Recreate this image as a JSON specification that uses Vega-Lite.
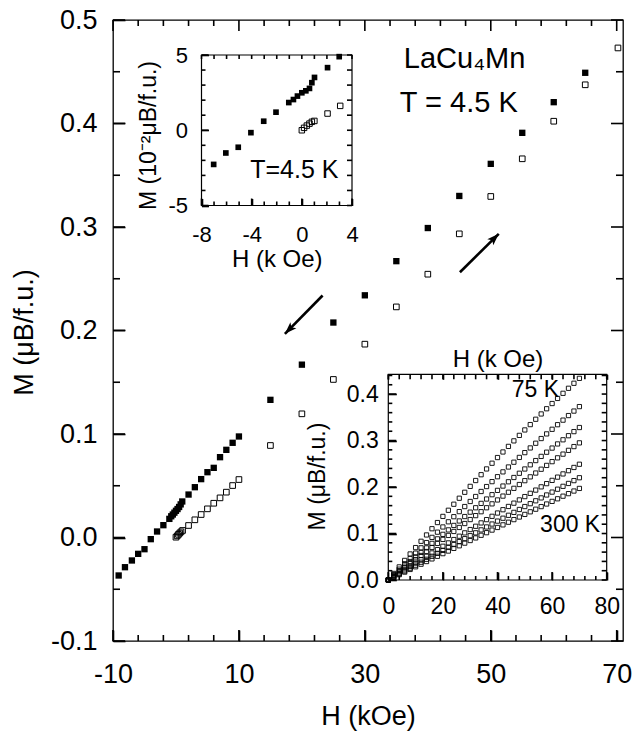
{
  "$schema": "https://vega.github.io/schema/vega-lite/v6.json",
  "width": 510,
  "height": 621,
  "autosize": "none",
  "padding": {"left": 113, "top": 20, "right": 13, "bottom": 91},
  "config": {
    "font": "Liberation Sans",
    "view": {"stroke": "black", "strokeWidth": 1.3},
    "tick": {"thickness": 1.6, "opacity": 1, "color": "black"},
    "axis": {"labelColor": "black", "titleColor": "black", "tickColor": "#000000", "tickOpacity": 1, "tickWidth": 1.6, "ticks": true, "domainColor": "black", "grid": false, "titleFontWeight": "normal", "labelOverlap": false, "labelFlush": false, "domain": false}
  },
  "datasets": {
    "mxMaj": [{"v": -10}, {"v": 10}, {"v": 30}, {"v": 50}, {"v": 70}],
    "mxMin": [{"v": -6}, {"v": -2}, {"v": 2}, {"v": 6}, {"v": 14}, {"v": 18}, {"v": 22}, {"v": 26}, {"v": 34}, {"v": 38}, {"v": 42}, {"v": 46}, {"v": 54}, {"v": 58}, {"v": 62}, {"v": 66}],
    "myMaj": [{"v": -0.1}, {"v": 0}, {"v": 0.1}, {"v": 0.2}, {"v": 0.3}, {"v": 0.4}, {"v": 0.5}],
    "myMin": [{"v": -0.05}, {"v": 0.05}, {"v": 0.15}, {"v": 0.25}, {"v": 0.35}, {"v": 0.45}],
    "axMaj": [{"v": -8}, {"v": -4}, {"v": 0}, {"v": 4}],
    "axMin": [{"v": -7}, {"v": -6}, {"v": -5}, {"v": -3}, {"v": -2}, {"v": -1}, {"v": 1}, {"v": 2}, {"v": 3}],
    "axAll": [{"v": -8}, {"v": -7}, {"v": -6}, {"v": -5}, {"v": -4}, {"v": -3}, {"v": -2}, {"v": -1}, {"v": 0}, {"v": 1}, {"v": 2}, {"v": 3}, {"v": 4}],
    "ayMaj": [{"v": -5}, {"v": 0}, {"v": 5}],
    "ayMin": [{"v": -4}, {"v": -3}, {"v": -2}, {"v": -1}, {"v": 1}, {"v": 2}, {"v": 3}, {"v": 4}],
    "ayAll": [{"v": -5}, {"v": -4}, {"v": -3}, {"v": -2}, {"v": -1}, {"v": 0}, {"v": 1}, {"v": 2}, {"v": 3}, {"v": 4}, {"v": 5}],
    "bxMaj": [{"v": 0}, {"v": 20}, {"v": 40}, {"v": 60}, {"v": 80}],
    "bxMin": [{"v": 4}, {"v": 8}, {"v": 12}, {"v": 16}, {"v": 24}, {"v": 28}, {"v": 32}, {"v": 36}, {"v": 44}, {"v": 48}, {"v": 52}, {"v": 56}, {"v": 64}, {"v": 68}, {"v": 72}, {"v": 76}],
    "bxAll": [{"v": 0}, {"v": 4}, {"v": 8}, {"v": 12}, {"v": 16}, {"v": 20}, {"v": 24}, {"v": 28}, {"v": 32}, {"v": 36}, {"v": 40}, {"v": 44}, {"v": 48}, {"v": 52}, {"v": 56}, {"v": 60}, {"v": 64}, {"v": 68}, {"v": 72}, {"v": 76}, {"v": 80}],
    "byMaj": [{"v": 0}, {"v": 0.1}, {"v": 0.2}, {"v": 0.3}, {"v": 0.4}],
    "byMin": [{"v": 0.02}, {"v": 0.04}, {"v": 0.06}, {"v": 0.08}, {"v": 0.12}, {"v": 0.14}, {"v": 0.16}, {"v": 0.18}, {"v": 0.22}, {"v": 0.24}, {"v": 0.26}, {"v": 0.28}, {"v": 0.32}, {"v": 0.34}, {"v": 0.36}, {"v": 0.38}, {"v": 0.42}, {"v": 0.44}],
    "byAll": [{"v": 0}, {"v": 0.02}, {"v": 0.04}, {"v": 0.06}, {"v": 0.08}, {"v": 0.1}, {"v": 0.12}, {"v": 0.14}, {"v": 0.16}, {"v": 0.18}, {"v": 0.2}, {"v": 0.22}, {"v": 0.24}, {"v": 0.26}, {"v": 0.28}, {"v": 0.3}, {"v": 0.32}, {"v": 0.34}, {"v": 0.36}, {"v": 0.38}, {"v": 0.4}, {"v": 0.42}, {"v": 0.44}]
  },
  "resolve": {"scale": {"x": "independent", "y": "independent"}, "axis": {"x": "independent", "y": "independent"}},
  "layer": [
    {
      "resolve": {"axis": {"x": "independent", "y": "independent"}},
      "layer": [
        {
          "data": {"values": [
            {"H": -9.1, "M": -0.0367}, {"H": -8.1, "M": -0.0287}, {"H": -7, "M": -0.0222}, {"H": -6, "M": -0.0158}, {"H": -5, "M": -0.0113}, {"H": -4, "M": -0.0016}, {"H": -3, "M": 0.0058}, {"H": -2, "M": 0.0119}, {"H": -1.05, "M": 0.018}, {"H": -0.75, "M": 0.0205}, {"H": -0.5, "M": 0.0222}, {"H": -0.25, "M": 0.024}, {"H": 0, "M": 0.0258}, {"H": 0.25, "M": 0.0275}, {"H": 0.5, "M": 0.0295}, {"H": 0.75, "M": 0.032}, {"H": 1, "M": 0.0348}, {"H": 2, "M": 0.0415}, {"H": 3, "M": 0.0486}, {"H": 4, "M": 0.0564}, {"H": 5, "M": 0.0631}, {"H": 6, "M": 0.0673}, {"H": 7, "M": 0.0776}, {"H": 8, "M": 0.0847}, {"H": 9, "M": 0.0915}, {"H": 10, "M": 0.0976}, {"H": 15, "M": 0.133}, {"H": 20, "M": 0.167}, {"H": 25, "M": 0.2077}, {"H": 30, "M": 0.234}, {"H": 35, "M": 0.267}, {"H": 40, "M": 0.299}, {"H": 45, "M": 0.33}, {"H": 50, "M": 0.361}, {"H": 55, "M": 0.391}, {"H": 60, "M": 0.4206}, {"H": 65, "M": 0.449}
          ]},
          "mark": {"type": "point", "shape": "square", "filled": true, "color": "black", "size": 40, "opacity": 1},
          "encoding": {
            "x": {"field": "H", "type": "quantitative", "scale": {"domain": [-10, 71], "nice": false, "zero": false},
              "axis": {"orient": "bottom", "offset": -11, "values": [-10, 10, 30, 50, 70], "tickSize": 11,
                "labelExpr": "toString(datum.value)",
                "labelFontSize": 27, "labelPadding": 20,
                "title": "H (kOe)", "titleFontSize": 27, "titleY": 94, "titleBaseline": "alphabetic"}},
            "y": {"field": "M", "type": "quantitative", "scale": {"domain": [-0.1, 0.5], "nice": false, "zero": false},
              "axis": {"orient": "left", "offset": -12, "values": [-0.1, 0, 0.1, 0.2, 0.3, 0.4, 0.5], "tickSize": 12,
                "labelExpr": "datum.value < 0 ? '-' + format(-datum.value, '.1f') : format(datum.value, '.1f')",
                "labelFontSize": 27, "labelPadding": 16,
                "title": "M (μB/f.u.)", "titleFontSize": 27, "titleX": -93, "titleY": 312, "titleAngle": 270, "titleAlign": "center", "titleBaseline": "alphabetic"}}
          }
        },
        {
          "data": {"values": [
            {"H": 0, "M": 0.0003}, {"H": 0.2, "M": 0.0016}, {"H": 0.4, "M": 0.003}, {"H": 0.6, "M": 0.0043}, {"H": 0.8, "M": 0.0055}, {"H": 1.05, "M": 0.0068}, {"H": 2, "M": 0.0116}, {"H": 3, "M": 0.0171}, {"H": 4, "M": 0.0222}, {"H": 5, "M": 0.0277}, {"H": 6, "M": 0.0331}, {"H": 7, "M": 0.0383}, {"H": 8, "M": 0.0438}, {"H": 9, "M": 0.0502}, {"H": 10, "M": 0.056}, {"H": 15, "M": 0.0889}, {"H": 20, "M": 0.1195}, {"H": 25, "M": 0.1527}, {"H": 30, "M": 0.1868}, {"H": 35, "M": 0.2228}, {"H": 40, "M": 0.2544}, {"H": 45, "M": 0.2934}, {"H": 50, "M": 0.3295}, {"H": 55, "M": 0.3659}, {"H": 60, "M": 0.4022}, {"H": 65, "M": 0.4374}, {"H": 70.2, "M": 0.473}
          ]},
          "mark": {"type": "point", "shape": "square", "filled": false, "stroke": "black", "strokeWidth": 1, "size": 32, "opacity": 1},
          "encoding": {
            "x": {"field": "H", "type": "quantitative", "scale": {"domain": [-10, 71], "nice": false, "zero": false}, "axis": null},
            "y": {"field": "M", "type": "quantitative", "scale": {"domain": [-0.1, 0.5], "nice": false, "zero": false}, "axis": null}
          }
        },
        {
          "data": {"values": [
            {"H": 45.1, "M": 0.2563, "H2": 51.27, "M2": 0.2934},
            {"H": 23.29, "M": 0.2338, "H2": 17.3, "M2": 0.1968}
          ]},
          "mark": {"type": "rule", "color": "black", "strokeWidth": 2.6},
          "encoding": {
            "x": {"field": "H", "type": "quantitative", "scale": {"domain": [-10, 71], "nice": false, "zero": false}, "axis": null},
            "y": {"field": "M", "type": "quantitative", "scale": {"domain": [-0.1, 0.5], "nice": false, "zero": false}, "axis": null},
            "x2": {"field": "H2"},
            "y2": {"field": "M2"}
          }
        },
        {
          "data": {"values": [{"H": 51.27, "M": 0.2934}]},
          "mark": {"type": "point", "shape": "M0,0L0.6,1.7L0,1.3L-0.6,1.7Z", "filled": true, "color": "black", "size": 200, "opacity": 1, "angle": 45},
          "encoding": {
            "x": {"field": "H", "type": "quantitative", "scale": {"domain": [-10, 71], "nice": false, "zero": false}, "axis": null},
            "y": {"field": "M", "type": "quantitative", "scale": {"domain": [-0.1, 0.5], "nice": false, "zero": false}, "axis": null}
          }
        },
        {
          "data": {"values": [{"H": 17.3, "M": 0.1968}]},
          "mark": {"type": "point", "shape": "M0,0L0.6,1.7L0,1.3L-0.6,1.7Z", "filled": true, "color": "black", "size": 200, "opacity": 1, "angle": 225},
          "encoding": {
            "x": {"field": "H", "type": "quantitative", "scale": {"domain": [-10, 71], "nice": false, "zero": false}, "axis": null},
            "y": {"field": "M", "type": "quantitative", "scale": {"domain": [-0.1, 0.5], "nice": false, "zero": false}, "axis": null}
          }
        },
        {
          "data": {"values": [
            {"H": 36.19, "M": 0.4538, "t": "LaCu₄Mn"},
            {"H": 35.56, "M": 0.411, "t": "T = 4.5 K"}
          ]},
          "mark": {"type": "text", "align": "left", "baseline": "alphabetic", "fontSize": 29, "color": "black"},
          "encoding": {
            "x": {"field": "H", "type": "quantitative", "scale": {"domain": [-10, 71], "nice": false, "zero": false}, "axis": null},
            "y": {"field": "M", "type": "quantitative", "scale": {"domain": [-0.1, 0.5], "nice": false, "zero": false}, "axis": null},
            "text": {"field": "t"}
          }
        },
        {"data": {"name": "mxMaj"}, "mark": {"type": "tick", "orient": "vertical", "size": 11, "yOffset": -5.5},
          "encoding": {"x": {"field": "v", "type": "quantitative", "scale": {"domain": [-10, 71], "nice": false, "zero": false}, "axis": null},
            "y": {"datum": -0.1, "type": "quantitative", "scale": {"domain": [-0.1, 0.5], "nice": false, "zero": false}, "axis": null}}},
        {"data": {"name": "mxMaj"}, "mark": {"type": "tick", "orient": "vertical", "size": 11, "yOffset": 5.5},
          "encoding": {"x": {"field": "v", "type": "quantitative", "scale": {"domain": [-10, 71], "nice": false, "zero": false}, "axis": null},
            "y": {"datum": 0.5, "type": "quantitative", "scale": {"domain": [-0.1, 0.5], "nice": false, "zero": false}, "axis": null}}},
        {"data": {"name": "mxMin"}, "mark": {"type": "tick", "orient": "vertical", "size": 6, "yOffset": -3},
          "encoding": {"x": {"field": "v", "type": "quantitative", "scale": {"domain": [-10, 71], "nice": false, "zero": false}, "axis": null},
            "y": {"datum": -0.1, "type": "quantitative", "scale": {"domain": [-0.1, 0.5], "nice": false, "zero": false}, "axis": null}}},
        {"data": {"name": "mxMin"}, "mark": {"type": "tick", "orient": "vertical", "size": 6, "yOffset": 3},
          "encoding": {"x": {"field": "v", "type": "quantitative", "scale": {"domain": [-10, 71], "nice": false, "zero": false}, "axis": null},
            "y": {"datum": 0.5, "type": "quantitative", "scale": {"domain": [-0.1, 0.5], "nice": false, "zero": false}, "axis": null}}},
        {"data": {"name": "myMaj"}, "mark": {"type": "tick", "orient": "horizontal", "size": 12, "xOffset": 6},
          "encoding": {"y": {"field": "v", "type": "quantitative", "scale": {"domain": [-0.1, 0.5], "nice": false, "zero": false}, "axis": null},
            "x": {"datum": -10, "type": "quantitative", "scale": {"domain": [-10, 71], "nice": false, "zero": false}, "axis": null}}},
        {"data": {"name": "myMaj"}, "mark": {"type": "tick", "orient": "horizontal", "size": 12, "xOffset": -6},
          "encoding": {"y": {"field": "v", "type": "quantitative", "scale": {"domain": [-0.1, 0.5], "nice": false, "zero": false}, "axis": null},
            "x": {"datum": 71, "type": "quantitative", "scale": {"domain": [-10, 71], "nice": false, "zero": false}, "axis": null}}},
        {"data": {"name": "myMin"}, "mark": {"type": "tick", "orient": "horizontal", "size": 7, "xOffset": 3.5},
          "encoding": {"y": {"field": "v", "type": "quantitative", "scale": {"domain": [-0.1, 0.5], "nice": false, "zero": false}, "axis": null},
            "x": {"datum": -10, "type": "quantitative", "scale": {"domain": [-10, 71], "nice": false, "zero": false}, "axis": null}}},
        {"data": {"name": "myMin"}, "mark": {"type": "tick", "orient": "horizontal", "size": 7, "xOffset": -3.5},
          "encoding": {"y": {"field": "v", "type": "quantitative", "scale": {"domain": [-0.1, 0.5], "nice": false, "zero": false}, "axis": null},
            "x": {"datum": 71, "type": "quantitative", "scale": {"domain": [-10, 71], "nice": false, "zero": false}, "axis": null}}}
      ]
    },
    {
      "resolve": {"axis": {"x": "independent", "y": "independent"}},
      "layer": [
        {
          "data": {"values": [{"x1": -8, "x2": 4, "y1": -5, "y2": 5}]},
          "mark": {"type": "rect", "fill": "transparent", "stroke": "black", "strokeWidth": 1.2},
          "encoding": {
            "x": {"field": "x1", "type": "quantitative", "scale": {"domain": [-8, 4], "range": [88.5, 239], "nice": false, "zero": false}, "axis": null},
            "x2": {"field": "x2"},
            "y": {"field": "y1", "type": "quantitative", "scale": {"domain": [-5, 5], "range": [185.5, 35], "nice": false, "zero": false}, "axis": null},
            "y2": {"field": "y2"}
          }
        },
        {
          "data": {"values": [
            {"H": -7.03, "M": -2.27}, {"H": -6.06, "M": -1.51}, {"H": -5.07, "M": -1.13}, {"H": -4.06, "M": -0.16}, {"H": -3.04, "M": 0.6}, {"H": -2.06, "M": 1.2}, {"H": -1.04, "M": 1.84}, {"H": -0.67, "M": 2.04}, {"H": -0.35, "M": 2.27}, {"H": 0, "M": 2.49}, {"H": 0.32, "M": 2.62}, {"H": 0.61, "M": 2.78}, {"H": 0.8, "M": 3.16}, {"H": 1.01, "M": 3.51}, {"H": 2.05, "M": 4.16}, {"H": 2.98, "M": 4.89}
          ]},
          "mark": {"type": "point", "shape": "square", "filled": true, "color": "black", "size": 32, "opacity": 1},
          "encoding": {
            "x": {"field": "H", "type": "quantitative", "scale": {"domain": [-8, 4], "range": [88.5, 239], "nice": false, "zero": false},
              "axis": {"orient": "bottom", "offset": -442.5, "values": [-8, -4, 0, 4], "tickSize": 7,
                "labelExpr": "toString(datum.value)",
                "labelFontSize": 22, "labelPadding": 19,
                "title": "H (k Oe)", "titleFontSize": 24, "titleY": 68, "titleBaseline": "alphabetic"}},
            "y": {"field": "M", "type": "quantitative", "scale": {"domain": [-5, 5], "range": [185.5, 35], "nice": false, "zero": false},
              "axis": {"orient": "left", "offset": -95.5, "values": [-5, 0, 5], "tickSize": 7,
                "labelExpr": "toString(datum.value)",
                "labelFontSize": 22, "labelPadding": 14,
                "title": "M (10⁻²μB/f.u.)", "titleFontSize": 23, "titleX": -53, "titleY": 115, "titleAngle": 270, "titleAlign": "center", "titleBaseline": "alphabetic"}}
          }
        },
        {
          "data": {"values": [
            {"H": 0, "M": 0}, {"H": 0.18, "M": 0.16}, {"H": 0.4, "M": 0.31}, {"H": 0.61, "M": 0.44}, {"H": 0.8, "M": 0.56}, {"H": 1.0, "M": 0.62}, {"H": 2.05, "M": 1.11}, {"H": 3.06, "M": 1.62}
          ]},
          "mark": {"type": "point", "shape": "square", "filled": false, "stroke": "black", "strokeWidth": 1, "size": 30, "opacity": 1},
          "encoding": {
            "x": {"field": "H", "type": "quantitative", "scale": {"domain": [-8, 4], "range": [88.5, 239], "nice": false, "zero": false}, "axis": null},
            "y": {"field": "M", "type": "quantitative", "scale": {"domain": [-5, 5], "range": [185.5, 35], "nice": false, "zero": false}, "axis": null}
          }
        },
        {
          "data": {"values": [{"H": -4.12, "M": -3.2, "t": "T=4.5 K"}]},
          "mark": {"type": "text", "align": "left", "baseline": "alphabetic", "fontSize": 25, "color": "black"},
          "encoding": {
            "x": {"field": "H", "type": "quantitative", "scale": {"domain": [-8, 4], "range": [88.5, 239], "nice": false, "zero": false}, "axis": null},
            "y": {"field": "M", "type": "quantitative", "scale": {"domain": [-5, 5], "range": [185.5, 35], "nice": false, "zero": false}, "axis": null},
            "text": {"field": "t"}
          }
        },
        {"data": {"name": "axMaj"}, "mark": {"type": "tick", "orient": "vertical", "size": 7, "yOffset": -3.5},
          "encoding": {"x": {"field": "v", "type": "quantitative", "scale": {"domain": [-8, 4], "range": [88.5, 239], "nice": false, "zero": false}, "axis": null},
            "y": {"datum": -5, "type": "quantitative", "scale": {"domain": [-5, 5], "range": [185.5, 35], "nice": false, "zero": false}, "axis": null}}},
        {"data": {"name": "axMin"}, "mark": {"type": "tick", "orient": "vertical", "size": 4, "yOffset": -2},
          "encoding": {"x": {"field": "v", "type": "quantitative", "scale": {"domain": [-8, 4], "range": [88.5, 239], "nice": false, "zero": false}, "axis": null},
            "y": {"datum": -5, "type": "quantitative", "scale": {"domain": [-5, 5], "range": [185.5, 35], "nice": false, "zero": false}, "axis": null}}},
        {"data": {"name": "axAll"}, "mark": {"type": "tick", "orient": "vertical", "size": 4, "yOffset": 2},
          "encoding": {"x": {"field": "v", "type": "quantitative", "scale": {"domain": [-8, 4], "range": [88.5, 239], "nice": false, "zero": false}, "axis": null},
            "y": {"datum": 5, "type": "quantitative", "scale": {"domain": [-5, 5], "range": [185.5, 35], "nice": false, "zero": false}, "axis": null}}},
        {"data": {"name": "ayMaj"}, "mark": {"type": "tick", "orient": "horizontal", "size": 7, "xOffset": 3.5},
          "encoding": {"y": {"field": "v", "type": "quantitative", "scale": {"domain": [-5, 5], "range": [185.5, 35], "nice": false, "zero": false}, "axis": null},
            "x": {"datum": -8, "type": "quantitative", "scale": {"domain": [-8, 4], "range": [88.5, 239], "nice": false, "zero": false}, "axis": null}}},
        {"data": {"name": "ayMin"}, "mark": {"type": "tick", "orient": "horizontal", "size": 4, "xOffset": 2},
          "encoding": {"y": {"field": "v", "type": "quantitative", "scale": {"domain": [-5, 5], "range": [185.5, 35], "nice": false, "zero": false}, "axis": null},
            "x": {"datum": -8, "type": "quantitative", "scale": {"domain": [-8, 4], "range": [88.5, 239], "nice": false, "zero": false}, "axis": null}}},
        {"data": {"name": "ayAll"}, "mark": {"type": "tick", "orient": "horizontal", "size": 5, "xOffset": -2.5},
          "encoding": {"y": {"field": "v", "type": "quantitative", "scale": {"domain": [-5, 5], "range": [185.5, 35], "nice": false, "zero": false}, "axis": null},
            "x": {"datum": 4, "type": "quantitative", "scale": {"domain": [-8, 4], "range": [88.5, 239], "nice": false, "zero": false}, "axis": null}}}
      ]
    },
    {
      "resolve": {"axis": {"x": "independent", "y": "independent"}},
      "layer": [
        {
          "data": {"values": [{"x1": 0, "x2": 80, "y1": 0, "y2": 0.4425}]},
          "mark": {"type": "rect", "fill": "transparent", "stroke": "black", "strokeWidth": 1.2},
          "encoding": {
            "x": {"field": "x1", "type": "quantitative", "scale": {"domain": [0, 80], "range": [275.3, 493.7], "nice": false, "zero": false}, "axis": null},
            "x2": {"field": "x2"},
            "y": {"field": "y1", "type": "quantitative", "scale": {"domain": [0, 0.4425], "range": [560, 354.3], "nice": false, "zero": false}, "axis": null},
            "y2": {"field": "y2"}
          }
        },
        {
          "data": {"values": [
            {"H": 0, "c1": 0, "c2": 0, "c3": 0, "c4": 0, "c5": 0, "c6": 0, "c7": 0},
            {"H": 2, "c1": 0.0141, "c2": 0.0117, "c3": 0.0100, "c4": 0.0088, "c5": 0.0073, "c6": 0.0064, "c7": 0.0057},
            {"H": 4, "c1": 0.0282, "c2": 0.0233, "c3": 0.0199, "c4": 0.0176, "c5": 0.0146, "c6": 0.0128, "c7": 0.0114},
            {"H": 6, "c1": 0.0421, "c2": 0.0349, "c3": 0.0298, "c4": 0.0264, "c5": 0.0219, "c6": 0.0192, "c7": 0.0170},
            {"H": 8, "c1": 0.0560, "c2": 0.0464, "c3": 0.0397, "c4": 0.0352, "c5": 0.0292, "c6": 0.0255, "c7": 0.0227},
            {"H": 10, "c1": 0.0697, "c2": 0.0578, "c3": 0.0496, "c4": 0.0439, "c5": 0.0365, "c6": 0.0319, "c7": 0.0284},
            {"H": 12, "c1": 0.0833, "c2": 0.0692, "c3": 0.0594, "c4": 0.0527, "c5": 0.0437, "c6": 0.0383, "c7": 0.0340},
            {"H": 14, "c1": 0.0969, "c2": 0.0805, "c3": 0.0691, "c4": 0.0613, "c5": 0.0510, "c6": 0.0446, "c7": 0.0397},
            {"H": 16, "c1": 0.1103, "c2": 0.0917, "c3": 0.0788, "c4": 0.0700, "c5": 0.0582, "c6": 0.0510, "c7": 0.0454},
            {"H": 18, "c1": 0.1236, "c2": 0.1029, "c3": 0.0885, "c4": 0.0787, "c5": 0.0654, "c6": 0.0573, "c7": 0.0510},
            {"H": 20, "c1": 0.1368, "c2": 0.1141, "c3": 0.0982, "c4": 0.0873, "c5": 0.0726, "c6": 0.0637, "c7": 0.0567},
            {"H": 22, "c1": 0.1500, "c2": 0.1252, "c3": 0.1078, "c4": 0.0959, "c5": 0.0798, "c6": 0.0700, "c7": 0.0623},
            {"H": 24, "c1": 0.1630, "c2": 0.1362, "c3": 0.1174, "c4": 0.1044, "c5": 0.0870, "c6": 0.0763, "c7": 0.0680},
            {"H": 26, "c1": 0.1759, "c2": 0.1471, "c3": 0.1270, "c4": 0.1130, "c5": 0.0942, "c6": 0.0826, "c7": 0.0736},
            {"H": 28, "c1": 0.1887, "c2": 0.1580, "c3": 0.1365, "c4": 0.1215, "c5": 0.1014, "c6": 0.0889, "c7": 0.0793},
            {"H": 30, "c1": 0.2014, "c2": 0.1689, "c3": 0.1460, "c4": 0.1300, "c5": 0.1085, "c6": 0.0953, "c7": 0.0849},
            {"H": 32, "c1": 0.2140, "c2": 0.1796, "c3": 0.1554, "c4": 0.1385, "c5": 0.1156, "c6": 0.1015, "c7": 0.0905},
            {"H": 34, "c1": 0.2265, "c2": 0.1904, "c3": 0.1648, "c4": 0.1469, "c5": 0.1228, "c6": 0.1078, "c7": 0.0962},
            {"H": 36, "c1": 0.2389, "c2": 0.2010, "c3": 0.1742, "c4": 0.1554, "c5": 0.1299, "c6": 0.1141, "c7": 0.1018},
            {"H": 38, "c1": 0.2512, "c2": 0.2116, "c3": 0.1835, "c4": 0.1638, "c5": 0.1370, "c6": 0.1204, "c7": 0.1074},
            {"H": 40, "c1": 0.2634, "c2": 0.2222, "c3": 0.1928, "c4": 0.1722, "c5": 0.1441, "c6": 0.1267, "c7": 0.1130},
            {"H": 42, "c1": 0.2754, "c2": 0.2326, "c3": 0.2021, "c4": 0.1805, "c5": 0.1512, "c6": 0.1329, "c7": 0.1186},
            {"H": 44, "c1": 0.2874, "c2": 0.2431, "c3": 0.2113, "c4": 0.1888, "c5": 0.1582, "c6": 0.1392, "c7": 0.1243},
            {"H": 46, "c1": 0.2993, "c2": 0.2534, "c3": 0.2205, "c4": 0.1972, "c5": 0.1653, "c6": 0.1455, "c7": 0.1299},
            {"H": 48, "c1": 0.3111, "c2": 0.2637, "c3": 0.2296, "c4": 0.2054, "c5": 0.1723, "c6": 0.1517, "c7": 0.1355},
            {"H": 50, "c1": 0.3228, "c2": 0.2740, "c3": 0.2388, "c4": 0.2137, "c5": 0.1794, "c6": 0.1580, "c7": 0.1411},
            {"H": 52, "c1": 0.3343, "c2": 0.2841, "c3": 0.2478, "c4": 0.2219, "c5": 0.1864, "c6": 0.1642, "c7": 0.1467},
            {"H": 54, "c1": 0.3458, "c2": 0.2942, "c3": 0.2569, "c4": 0.2301, "c5": 0.1934, "c6": 0.1704, "c7": 0.1523},
            {"H": 56, "c1": 0.3572, "c2": 0.3043, "c3": 0.2659, "c4": 0.2383, "c5": 0.2004, "c6": 0.1766, "c7": 0.1579},
            {"H": 58, "c1": 0.3684, "c2": 0.3143, "c3": 0.2749, "c4": 0.2465, "c5": 0.2073, "c6": 0.1829, "c7": 0.1635},
            {"H": 60, "c1": 0.3796, "c2": 0.3242, "c3": 0.2838, "c4": 0.2546, "c5": 0.2143, "c6": 0.1891, "c7": 0.1691},
            {"H": 62, "c1": 0.3906, "c2": 0.3341, "c3": 0.2927, "c4": 0.2628, "c5": 0.2213, "c6": 0.1953, "c7": 0.1747},
            {"H": 64, "c1": 0.4016, "c2": 0.3439, "c3": 0.3016, "c4": 0.2708, "c5": 0.2282, "c6": 0.2015, "c7": 0.1803},
            {"H": 66, "c1": 0.4124, "c2": 0.3537, "c3": 0.3104, "c4": 0.2789, "c5": 0.2352, "c6": 0.2077, "c7": 0.1858},
            {"H": 68, "c1": 0.4232, "c2": 0.3634, "c3": 0.3192, "c4": 0.2870, "c5": 0.2421, "c6": 0.2138, "c7": 0.1914},
            {"H": 70, "c1": 0.4338, "c2": 0.3730, "c3": 0.3280, "c4": 0.2950, "c5": 0.2490, "c6": 0.2200, "c7": 0.1970}
          ]},
          "transform": [{"fold": ["c1", "c2", "c3", "c4", "c5", "c6", "c7"], "as": ["curve", "M"]}],
          "mark": {"type": "point", "shape": "square", "filled": false, "stroke": "black", "strokeWidth": 0.9, "size": 18, "opacity": 1},
          "encoding": {
            "x": {"field": "H", "type": "quantitative", "scale": {"domain": [0, 80], "range": [275.3, 493.7], "nice": false, "zero": false},
              "axis": {"orient": "bottom", "offset": -69, "values": [0, 20, 40, 60, 80], "tickSize": 8,
                "labelExpr": "toString(datum.value)",
                "labelFontSize": 23, "labelPadding": 15, "title": null}},
            "y": {"field": "M", "type": "quantitative", "scale": {"domain": [0, 0.4425], "range": [560, 354.3], "nice": false, "zero": false},
              "axis": {"orient": "left", "offset": -283.3, "values": [0, 0.1, 0.2, 0.3, 0.4], "tickSize": 8,
                "labelExpr": "format(datum.value, '.1f')",
                "labelFontSize": 23, "labelPadding": 10,
                "title": "M (μB/f.u.)", "titleFontSize": 23, "titleX": -72, "titleY": 456, "titleAngle": 270, "titleAlign": "center", "titleBaseline": "alphabetic"}}
          }
        },
        {
          "data": {"values": [{"H": 45.2, "M": 0.394, "t": "75 K"}, {"H": 55.6, "M": 0.104, "t": "300 K"}]},
          "mark": {"type": "text", "align": "left", "baseline": "alphabetic", "fontSize": 23, "color": "black"},
          "encoding": {
            "x": {"field": "H", "type": "quantitative", "scale": {"domain": [0, 80], "range": [275.3, 493.7], "nice": false, "zero": false},
              "axis": {"orient": "top", "offset": -359.3, "values": [0, 20, 40, 60, 80], "tickSize": 5, "labels": false,
                "title": "H (k Oe)", "titleFontSize": 24, "titleY": -13, "titleBaseline": "alphabetic"}},
            "y": {"field": "M", "type": "quantitative", "scale": {"domain": [0, 0.4425], "range": [560, 354.3], "nice": false, "zero": false}, "axis": null},
            "text": {"field": "t"}
          }
        },
        {"data": {"name": "bxMaj"}, "mark": {"type": "tick", "orient": "vertical", "size": 8, "yOffset": -4},
          "encoding": {"x": {"field": "v", "type": "quantitative", "scale": {"domain": [0, 80], "range": [275.3, 493.7], "nice": false, "zero": false}, "axis": null},
            "y": {"datum": 0, "type": "quantitative", "scale": {"domain": [0, 0.4425], "range": [560, 354.3], "nice": false, "zero": false}, "axis": null}}},
        {"data": {"name": "bxMin"}, "mark": {"type": "tick", "orient": "vertical", "size": 4, "yOffset": -2},
          "encoding": {"x": {"field": "v", "type": "quantitative", "scale": {"domain": [0, 80], "range": [275.3, 493.7], "nice": false, "zero": false}, "axis": null},
            "y": {"datum": 0, "type": "quantitative", "scale": {"domain": [0, 0.4425], "range": [560, 354.3], "nice": false, "zero": false}, "axis": null}}},
        {"data": {"name": "bxAll"}, "mark": {"type": "tick", "orient": "vertical", "size": 5, "yOffset": 2.5},
          "encoding": {"x": {"field": "v", "type": "quantitative", "scale": {"domain": [0, 80], "range": [275.3, 493.7], "nice": false, "zero": false}, "axis": null},
            "y": {"datum": 0.4425, "type": "quantitative", "scale": {"domain": [0, 0.4425], "range": [560, 354.3], "nice": false, "zero": false}, "axis": null}}},
        {"data": {"name": "byMaj"}, "mark": {"type": "tick", "orient": "horizontal", "size": 8, "xOffset": 4},
          "encoding": {"y": {"field": "v", "type": "quantitative", "scale": {"domain": [0, 0.4425], "range": [560, 354.3], "nice": false, "zero": false}, "axis": null},
            "x": {"datum": 0, "type": "quantitative", "scale": {"domain": [0, 80], "range": [275.3, 493.7], "nice": false, "zero": false}, "axis": null}}},
        {"data": {"name": "byMin"}, "mark": {"type": "tick", "orient": "horizontal", "size": 4, "xOffset": 2},
          "encoding": {"y": {"field": "v", "type": "quantitative", "scale": {"domain": [0, 0.4425], "range": [560, 354.3], "nice": false, "zero": false}, "axis": null},
            "x": {"datum": 0, "type": "quantitative", "scale": {"domain": [0, 80], "range": [275.3, 493.7], "nice": false, "zero": false}, "axis": null}}},
        {"data": {"name": "byAll"}, "mark": {"type": "tick", "orient": "horizontal", "size": 5, "xOffset": -2.5},
          "encoding": {"y": {"field": "v", "type": "quantitative", "scale": {"domain": [0, 0.4425], "range": [560, 354.3], "nice": false, "zero": false}, "axis": null},
            "x": {"datum": 80, "type": "quantitative", "scale": {"domain": [0, 80], "range": [275.3, 493.7], "nice": false, "zero": false}, "axis": null}}}
      ]
    }
  ]
}
